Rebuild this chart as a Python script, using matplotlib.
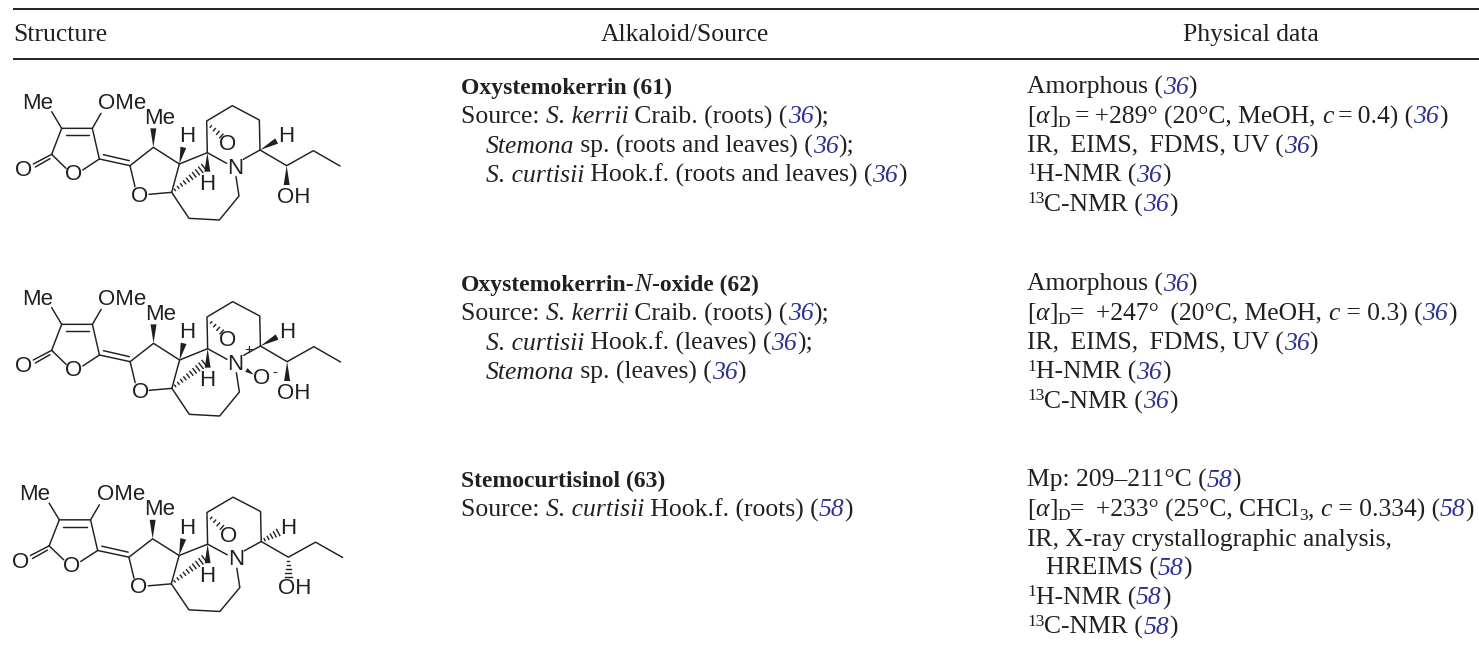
import matplotlib
matplotlib.use("Agg")
import matplotlib.pyplot as plt
from matplotlib.patches import Polygon

W, H = 1479, 655
FS = 18.45
FS_BOLD = 17.0
FS_LABEL = 16.0
LINK = "#2e3192"
INK = "#231f20"
FONT = "Liberation Serif"

HEADERS = ["Structure", "Alkaloid/Source", "Physical data"]

R = "r"; B = "b"; I = "i"; L = "l"; SUP = "sup"; SUB = "sub"

ALKALOIDS = [
    [[("Oxystemokerrin (61)", B)],
     [("Source: ", R), ("S. kerrii", I), (" Craib. (roots) (", R), ("36", L), (");", R)],
     [("   ", R), ("Stemona", I), (" sp. (roots and leaves) (", R), ("36", L), (");", R)],
     [("   ", R), ("S. curtisii", I), (" Hook.f. (roots and leaves) (", R), ("36", L), (")", R)]],
    [[("Oxystemokerrin-", B), ("N", I), ("-oxide (62)", B)],
     [("Source: ", R), ("S. kerrii", I), (" Craib. (roots) (", R), ("36", L), (");", R)],
     [("   ", R), ("S. curtisii", I), (" Hook.f. (leaves) (", R), ("36", L), (");", R)],
     [("   ", R), ("Stemona", I), (" sp. (leaves) (", R), ("36", L), (")", R)]],
    [[("Stemocurtisinol (63)", B)],
     [("Source: ", R), ("S. curtisii", I), (" Hook.f. (roots) (", R), ("58", L), (")", R)]],
]

IR_LINE = "IR,\u2009 EIMS,\u2009 FDMS, UV ("

PHYSICAL = [
    [[("Amorphous (", R), ("36", L), (")", R)],
     [("[", R), ("\u03b1", I), ("]", R), ("D", SUB), ("\u2009=\u2009+289\u00b0 (20\u00b0C, MeOH, ", R), ("c", I),
      ("\u2009=\u20090.4) (", R), ("36", L), (")", R)],
     [(IR_LINE, R), ("36", L), (")", R)],
     [("1", SUP), ("H-NMR (", R), ("36", L), (")", R)],
     [("13", SUP), ("C-NMR (", R), ("36", L), (")", R)]],
    [[("Amorphous (", R), ("36", L), (")", R)],
     [("[", R), ("\u03b1", I), ("]", R), ("D", SUB), ("=\u2009 +247\u00b0\u2009 (20\u00b0C, MeOH, ", R), ("c", I),
      (" = 0.3) (", R), ("36", L), (")", R)],
     [(IR_LINE, R), ("36", L), (")", R)],
     [("1", SUP), ("H-NMR (", R), ("36", L), (")", R)],
     [("13", SUP), ("C-NMR (", R), ("36", L), (")", R)]],
    [[("Mp: 209\u2013211\u00b0C (", R), ("58", L), (")", R)],
     [("[", R), ("\u03b1", I), ("]", R), ("D", SUB), ("=\u2009 +233\u00b0 (25\u00b0C, CHCl", R), ("3", SUB), (", ", R), ("c", I),
      (" = 0.334) (", R), ("58", L), (")", R)],
     [("IR, X-ray crystallographic analysis,", R)],
     [("   HREIMS (", R), ("58", L), (")", R)],
     [("1", SUP), ("H-NMR (", R), ("58", L), (")", R)],
     [("13", SUP), ("C-NMR (", R), ("58", L), (")", R)]],
]

ROW_BASE = [94, 291, 487]
LINE_GAP = 29.3
STRUCT_OFFSETS = [(0, 60, 1.0), (-0.1, 256, 1.002), (-3.45, 451.5, 1.018)]

# Skeleton in 3x zoom units, shared by the three structures
BONDS = [
    [(185, 205), (277, 205), (298, 297)], [(185, 205), (155, 283)],
    [(197, 225), (267, 225)], [(185, 205), (155, 155)], [(277, 205), (303, 160)],
    [(155, 283), (198, 325)], [(248, 330), (298, 297), (390, 317)],
    [(310, 284), (388, 302)], [(155, 283), (100, 312)], [(150, 296), (106, 321)],
    [(405, 380), (390, 317), (460, 262), (538, 312), (515, 397), (447, 403)],
    [(538, 312), (622, 278), (620, 183), (697, 137), (778, 180), (780, 270), (730, 298)],
    [(622, 278), (680, 310)], [(708, 350), (717, 408), (658, 480), (567, 475), (515, 397)],
    [(780, 270), (860, 317), (940, 272), (1020, 318)],
]
WEDGES = [[(460, 262), (460, 205)], [(538, 312), (550, 262)], [(622, 278), (622, 335)]]
HASHES = [[(515, 397), (612, 322), 10, 3.2], [(622, 190), (664, 228), 4, 1.9]]
LABELS = [("Me", 113, 130), ("OMe", 367, 130), ("Me", 480, 175), ("H", 561, 230), ("H", 622, 375),
          ("O", 683, 255), ("N", 705, 325), ("O", 222, 345), ("O", 72, 333), ("O", 420, 408)]
H_WEDGE_RIGHT = [(780, 270), (830, 243)]
OH_WEDGE = [(860, 317), (860, 375)]
OH_HASH = [(860, 317), (860, 375), 5, 3.0]
OH_RIGHT_H = ("H", 860, 231)
OH_LABEL = ("OH", 880, 412)
NOXIDE_PLUS = ("+", 745, 282)
NOXIDE_WEDGE = [(760, 356), (738, 342)]
NOXIDE_O = ("O", 785, 367)
NOXIDE_MINUS = ("-", 822, 347)

fig = plt.figure(figsize=(W / 100, H / 100), dpi=100)
ax = fig.add_axes([0, 0, 1, 1])
ax.set_xlim(0, W); ax.set_ylim(H, 0); ax.axis("off")
rend = fig.canvas.get_renderer()


def style(kind):
    d = dict(family=FONT, fontsize=FS, color=INK, va="baseline", ha="left")
    if kind == B: d.update(fontweight="bold", fontsize=FS_BOLD)
    if kind == I: d["fontstyle"] = "italic"
    if kind == L: d.update(fontstyle="italic", color=LINK)
    if kind in (SUP, SUB): d["fontsize"] = FS * 0.68
    return d


def rich(x, y, segs):
    for s, kind in segs:
        dy = {SUP: -8, SUB: 4}.get(kind, 0)
        if not s.strip():
            x += len(s) * 8.2
            continue
        t = ax.text(x, y + dy, s, **style(kind))
        x += t.get_window_extent(rend).width


def draw_structure(dx, dy, sx, ox, oh_hash=False, right_h_hash=False):
    def p(pt):
        return pt[0] / 3 * sx + dx, pt[1] / 3 + dy

    def lab(s, x, y, size=FS_LABEL):
        ax.text(*p((x, y)), s, family="Liberation Sans", fontsize=size, color=INK, ha="center", va="center")

    for b in BONDS:
        ax.plot(*zip(*[p(q) for q in b]), color=INK, lw=1.05, solid_capstyle="round")

    def wedge(a, c, w=3.0):
        (x0, y0), (x1, y1) = p(a), p(c)
        n = ((x1 - x0) ** 2 + (y1 - y0) ** 2) ** 0.5
        ux, uy = -(y1 - y0) / n * w, (x1 - x0) / n * w
        ax.add_patch(Polygon([(x0, y0), (x1 + ux, y1 + uy), (x1 - ux, y1 - uy)], color=INK, lw=0))

    def hashed(a, c, count, wide):
        (x0, y0), (x1, y1) = p(a), p(c)
        n = ((x1 - x0) ** 2 + (y1 - y0) ** 2) ** 0.5
        ux, uy = -(y1 - y0) / n, (x1 - x0) / n
        for i in range(1, count + 1):
            f = i / count
            hw = 0.5 + wide * f
            cx, cy = x0 + (x1 - x0) * f, y0 + (y1 - y0) * f
            ax.plot([cx - ux * hw, cx + ux * hw], [cy - uy * hw, cy + uy * hw], color=INK, lw=1.0)

    for w in WEDGES:
        wedge(*w)
    for a, c, k, wide in HASHES:
        hashed(a, c, k, wide)
    if right_h_hash:
        hashed(H_WEDGE_RIGHT[0], H_WEDGE_RIGHT[1], 5, 3.0)
    else:
        wedge(*H_WEDGE_RIGHT)
    if oh_hash:
        hashed(*OH_HASH)
    else:
        wedge(*OH_WEDGE)
    for s, x, y in LABELS:
        lab(s, x, y)
    lab(*OH_RIGHT_H)
    lab(*OH_LABEL)
    if ox:
        lab(*NOXIDE_PLUS, size=11)
        wedge(*NOXIDE_WEDGE, w=2.2)
        lab(*NOXIDE_O)
        lab(*NOXIDE_MINUS, size=11)


for y, lw in [(9, 1.4), (59, 1.4)]:
    ax.plot([13, W], [y, y], color=INK, lw=lw, solid_capstyle="butt")

ax.text(13, 41, HEADERS[0], **style(R))
ax.text(685, 41, HEADERS[1], **{**style(R), "ha": "center"})
ax.text(1251, 41, HEADERS[2], **{**style(R), "ha": "center"})

for row in range(3):
    base = ROW_BASE[row]
    for i, segs in enumerate(ALKALOIDS[row]):
        rich(461, base + i * LINE_GAP, segs)
    for i, segs in enumerate(PHYSICAL[row]):
        rich(1027, base + i * LINE_GAP, segs)
    draw_structure(*STRUCT_OFFSETS[row], ox=row == 1, oh_hash=row == 2, right_h_hash=row == 2)

fig.savefig("out.png", dpi=100)
